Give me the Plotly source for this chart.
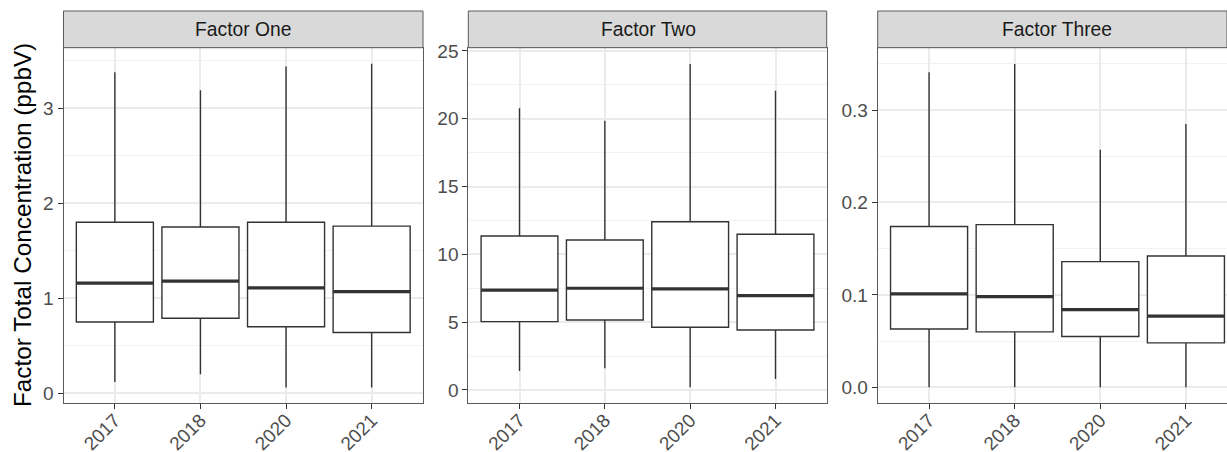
import plotly.graph_objects as go

# Sampling years shown on every facet
years = ["2017", "2018", "2020", "2021"]
facet_titles = ["Factor One", "Factor Two", "Factor Three"]

# Box statistics per factor (ppbV): lower whisker, Q1, median, Q3, upper whisker
f1_low = [0.12, 0.20, 0.06, 0.06]
f1_q1 = [0.75, 0.79, 0.70, 0.64]
f1_med = [1.16, 1.18, 1.11, 1.07]
f1_q3 = [1.80, 1.75, 1.80, 1.76]
f1_high = [3.38, 3.19, 3.44, 3.47]

f2_low = [1.4, 1.6, 0.2, 0.8]
f2_q1 = [5.04, 5.16, 4.62, 4.42]
f2_med = [7.37, 7.50, 7.45, 6.95]
f2_q3 = [11.36, 11.06, 12.41, 11.48]
f2_high = [20.77, 19.86, 24.04, 22.07]

f3_low = [0.0, 0.0, 0.0, 0.0]
f3_q1 = [0.063, 0.060, 0.055, 0.048]
f3_med = [0.101, 0.098, 0.084, 0.077]
f3_q3 = [0.174, 0.176, 0.136, 0.142]
f3_high = [0.341, 0.350, 0.257, 0.285]

factors = [
    (f1_low, f1_q1, f1_med, f1_q3, f1_high),
    (f2_low, f2_q1, f2_med, f2_q3, f2_high),
    (f3_low, f3_q1, f3_med, f3_q3, f3_high),
]

W, H = 1227, 452
FONT = "Liberation Sans, Arial, sans-serif"
BOX_LINE = "#333333"
GRID = "#ebebeb"
MINOR = "#f2f2f2"
BORDER = "#5a5a5a"
TICK = "#333333"

x_domains = [[63.5 / W, 423.0 / W], [468.3 / W, 826.7 / W], [877.7 / W, 1.0]]
y_domain = [1 - 402.7 / H, 1 - 48.0 / H]
x_ranges = [[-0.6, 3.6], [-0.6, 3.6], [-0.6, 3.48]]
y_ranges = [[-0.099, 3.635], [-0.94, 25.22], [-0.0167, 0.3672]]
y_dticks = [1, 5, 0.1]
y_formats = ["d", "d", ".1f"]
panel_w = (423.0 - 63.5) / W  # full (unclipped) facet width in paper units

fig = go.Figure()

for i, (low, q1, med, q3, high) in enumerate(factors):
    sfx = "" if i == 0 else str(i + 1)
    xa, ya = "x" + sfx, "y" + sfx
    # box + whiskers
    fig.add_trace(go.Box(
        x=years, q1=q1, median=med, q3=q3, lowerfence=low, upperfence=high,
        xaxis=xa, yaxis=ya, width=0.9, whiskerwidth=0, boxpoints=False,
        fillcolor="white", line=dict(color=BOX_LINE, width=1.4),
        showlegend=False, hoverinfo="skip",
    ))
    # heavier median bar drawn on top
    fig.add_trace(go.Box(
        x=years, q1=med, median=med, q3=med, lowerfence=med, upperfence=med,
        xaxis=xa, yaxis=ya, width=0.9, whiskerwidth=0, boxpoints=False,
        fillcolor="rgba(0,0,0,0)", line=dict(color=BOX_LINE, width=3.2),
        showlegend=False, hoverinfo="skip",
    ))

    axis_common = dict(
        automargin=False,
        showline=True, mirror=True, linecolor=BORDER, linewidth=1,
        ticks="outside", ticklen=5, tickwidth=1.3, tickcolor=TICK,
        tickfont=dict(family=FONT, size=19, color="#4d4d4d"),
        zeroline=False, gridcolor=GRID, gridwidth=1.5,
    )
    fig.layout["xaxis" + sfx] = dict(
        axis_common, domain=x_domains[i], anchor=ya, type="category",
        range=x_ranges[i], tickangle=-45, showgrid=True,
        ticklabelstandoff=-7,
    )
    fig.layout["yaxis" + sfx] = dict(
        axis_common, domain=y_domain, anchor=xa, range=y_ranges[i],
        dtick=y_dticks[i], tick0=0, tickformat=y_formats[i], showgrid=True,
        minor=dict(dtick=y_dticks[i] / 2, tick0=0, showgrid=True,
                   gridcolor=MINOR, gridwidth=1, ticks=""),
    )

    # facet strip
    fig.add_shape(
        type="rect", xref="paper", yref="paper",
        x0=x_domains[i][0], x1=x_domains[i][1],
        y0=1 - 47.7 / H, y1=1 - 11.0 / H,
        fillcolor="#d9d9d9", line=dict(color=BORDER, width=1), layer="above",
    )
    fig.add_annotation(
        text=facet_titles[i], xref="paper", yref="paper",
        x=x_domains[i][0] + panel_w / 2,
        y=1 - 29.4 / H, xanchor="center", yanchor="middle", showarrow=False,
        font=dict(family=FONT, size=19.3, color="#1a1a1a"),
    )

fig.add_annotation(
    text="Factor Total Concentration (ppbV)", xref="paper", yref="paper",
    x=23 / W, y=1 - 225 / H, textangle=-90, xanchor="center", yanchor="middle",
    showarrow=False, font=dict(family=FONT, size=24.3, color="#000000"),
)

fig.update_layout(
    template="none",
    width=W, height=H, autosize=False,
    margin=dict(l=0, r=0, t=0, b=0, autoexpand=False),
    paper_bgcolor="white", plot_bgcolor="white",
    boxmode="overlay", showlegend=False,
)

fig.write_html("out.html")
